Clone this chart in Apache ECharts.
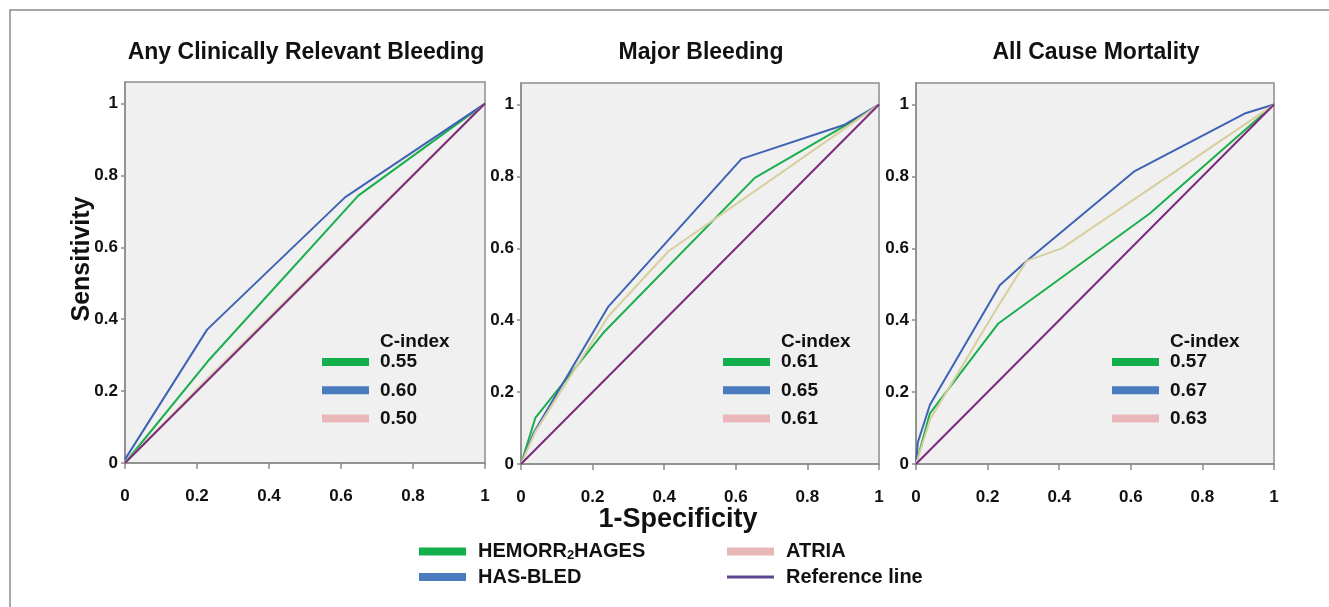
<!DOCTYPE html>
<html>
<head>
<meta charset="utf-8">
<script src="https://cdn.jsdelivr.net/npm/echarts@6/dist/echarts.min.js"></script>
<style>
html,body{margin:0;padding:0;background:#fff;}
#chart{width:1329px;height:607px;}
</style>
</head>
<body>
<div id="chart"></div>
<script>
// ---------- data ----------
const panelTitles = ['Any Clinically Relevant Bleeding', 'Major Bleeding', 'All Cause Mortality'];
const modelNames = ['HEMORR2HAGES', 'HAS-BLED', 'ATRIA', 'Reference line'];
const cIndexLabels = [
  ['0.55', '0.60', '0.50'],
  ['0.61', '0.65', '0.61'],
  ['0.57', '0.67', '0.63']
];
const tickValues = [0, 0.2, 0.4, 0.6, 0.8, 1];

// ROC points [1-specificity, sensitivity]
const acrbHemorr = [[0, 0], [0.23, 0.283], [0.648, 0.744], [1, 1]];
const acrbHasBled = [[0, 0.01], [0.228, 0.371], [0.611, 0.739], [1, 1]];
const acrbAtria = [[0, 0], [0.23, 0.236], [0.648, 0.652], [1, 1]];

const mbHemorr = [[0, 0], [0.04, 0.128], [0.23, 0.365], [0.653, 0.796], [0.91, 0.944], [1, 1]];
const mbHasBled = [[0, 0], [0.035, 0.086], [0.244, 0.438], [0.616, 0.849], [0.904, 0.944], [1, 1]];
const mbAtria = [[0, 0], [0.04, 0.09], [0.244, 0.411], [0.412, 0.592], [1, 1]];

const acmHemorr = [[0, 0], [0.039, 0.141], [0.23, 0.391], [0.653, 0.697], [1, 1]];
const acmHasBled = [[0, 0], [0.005, 0.06], [0.039, 0.165], [0.234, 0.497], [0.309, 0.565], [0.611, 0.815], [0.918, 0.975], [1, 1]];
const acmAtria = [[0, 0], [0.04, 0.125], [0.23, 0.44], [0.309, 0.565], [0.407, 0.6], [1, 1]];

const referenceLine = [[0, 0], [1, 1]];

const panelData = [
  [acrbHemorr, acrbHasBled, acrbAtria, referenceLine],
  [mbHemorr, mbHasBled, mbAtria, referenceLine],
  [acmHemorr, acmHasBled, acmAtria, referenceLine]
];

// ---------- styling ----------
const FONT = '"Liberation Sans", Arial, Helvetica, sans-serif';
const lineColors = ['#1aae4c', '#3f63b4', '#d8cf9e', '#7d2a7e'];
const swatchColors = ['#12b04c', '#4a7bbf', '#e9b7ba', '#5d4591'];
const gridBoxes = [
  {left: 125, top: 82, width: 360, height: 381},
  {left: 521, top: 83, width: 358, height: 381},
  {left: 916, top: 83, width: 358, height: 381}
];
const legendLefts = [322, 723, 1112];
const drawOrder = [2, 3, 0, 1];

const grids = gridBoxes.map(b => Object.assign({
  show: true,
  backgroundColor: '#f0f0f0',
  borderColor: '#8c8c8c',
  borderWidth: 1.5,
  outerBoundsMode: 'none',
  containLabel: false
}, b));

const axisCommon = {
  type: 'value',
  min: 0,
  interval: 0.2,
  axisLine: {show: true, lineStyle: {color: '#8c8c8c', width: 1.5}},
  axisTick: {show: true, inside: false, lineStyle: {color: '#8c8c8c', width: 1.5}},
  splitLine: {show: false},
  axisLabel: {color: '#111', fontWeight: 'bold', fontSize: 17, fontFamily: FONT}
};

const xAxes = gridBoxes.map((b, i) => echarts.util.merge(echarts.util.clone(axisCommon), {
  gridIndex: i, max: 1,
  axisTick: {length: 6},
  axisLabel: {margin: 25}
}));
const yAxes = gridBoxes.map((b, i) => echarts.util.merge(echarts.util.clone(axisCommon), {
  gridIndex: i, max: 1.06,
  axisTick: {length: 4, customValues: tickValues},
  axisLabel: {margin: 7, customValues: tickValues, formatter: v => (v > 1.001 ? '' : String(v))}
}));

const series = [];
panelData.forEach((curves, p) => {
  drawOrder.forEach(m => {
    series.push({
      name: modelNames[m],
      type: 'line',
      xAxisIndex: p,
      yAxisIndex: p,
      data: curves[m],
      symbol: 'none',
      silent: true,
      lineStyle: {color: lineColors[m], width: 2},
      itemStyle: {color: swatchColors[m], borderWidth: 0},
      z: 2 + m
    });
  });
});

const refIcon = 'path://M0,0L0,8M0,2.5L47,2.5L47,5.5L0,5.5Z';

const legendItem = m => ({
  name: modelNames[m],
  icon: m === 3 ? refIcon : 'rect',
  itemStyle: {color: swatchColors[m], borderWidth: 0}
});

const innerLegends = cIndexLabels.map((labels, p) => ({
  orient: 'vertical',
  left: legendLefts[p],
  top: 352,
  padding: 0,
  itemWidth: 47,
  itemHeight: 8,
  itemGap: 8.3,
  selectedMode: false,
  data: [0, 1, 2].map(legendItem),
  formatter: name => labels[modelNames.indexOf(name)],
  textStyle: {fontSize: 19, fontWeight: 'bold', color: '#111', fontFamily: FONT, lineHeight: 20, padding: [0, 0, 0, 6]}
}));

const bottomTextStyle = {
  fontSize: 20, fontWeight: 'bold', color: '#111', fontFamily: FONT, lineHeight: 21, padding: [0, 0, 0, 7],
  rich: {
    b: {fontSize: 20, fontWeight: 'bold', color: '#111', fontFamily: FONT, lineHeight: 21},
    s: {fontSize: 13, fontWeight: 'bold', color: '#111', fontFamily: FONT, lineHeight: 21, verticalAlign: 'bottom'}
  }
};
const bottomFormatter = name => name === 'HEMORR2HAGES' ? '{b|HEMORR}{s|2}{b|HAGES}' : '{b|' + name + '}';

const bottomLegends = [
  {left: 419, data: [0, 1]},
  {left: 727, data: [2, 3]}
].map(c => ({
  orient: 'vertical',
  left: c.left,
  top: 541,
  padding: 0,
  itemWidth: 47,
  itemHeight: 8,
  itemGap: 4.5,
  data: c.data.map(legendItem),
  formatter: bottomFormatter,
  textStyle: bottomTextStyle
}));

const titleCenters = gridBoxes.map(b => b.left + b.width / 2 + 1);
const titles = panelTitles.map((t, i) => ({
  text: t,
  left: titleCenters[i],
  top: 41,
  padding: 0,
  textAlign: 'center',
  textStyle: {fontSize: 23, fontWeight: 'bold', color: '#111', fontFamily: FONT}
}));

const graphics = [
  {type: 'rect', shape: {x: 10, y: 10, width: 1400, height: 700}, style: {fill: 'none', stroke: '#8a8a8a', lineWidth: 1.5}, silent: true},
  {type: 'text', x: 82, y: 259, rotation: Math.PI / 2, silent: true,
    style: {text: 'Sensitivity', align: 'center', verticalAlign: 'middle', fill: '#111', font: 'bold 25px ' + FONT}},
  {type: 'text', x: 678, y: 520, silent: true,
    style: {text: '1-Specificity', align: 'center', verticalAlign: 'middle', fill: '#111', font: 'bold 27px ' + FONT}}
].concat(legendLefts.map(l => ({
  type: 'text', x: l + 58, y: 342, silent: true,
  style: {text: 'C-index', align: 'left', verticalAlign: 'middle', fill: '#111', font: 'bold 19px ' + FONT}
})));

const chart = echarts.init(document.getElementById('chart'), null, {renderer: 'canvas'});
chart.setOption({
  animation: false,
  backgroundColor: '#ffffff',
  title: titles,
  grid: grids,
  xAxis: xAxes,
  yAxis: yAxes,
  legend: innerLegends.concat(bottomLegends),
  series: series,
  graphic: graphics
});
</script>
</body>
</html>
